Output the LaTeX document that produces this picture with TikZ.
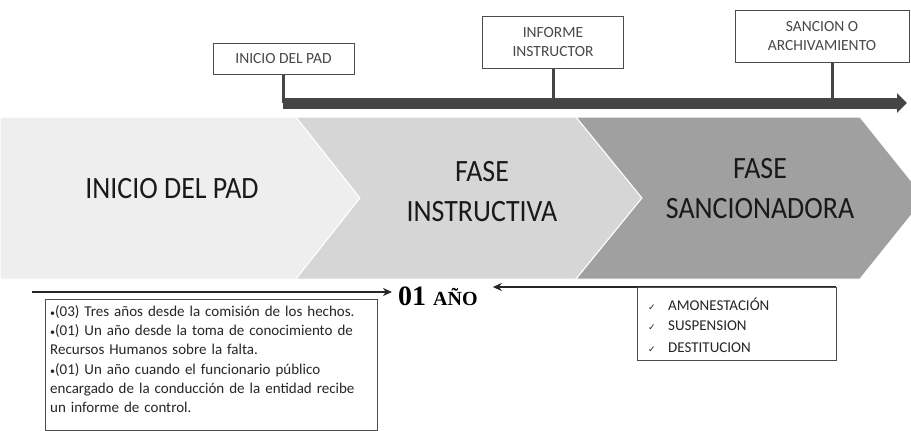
\documentclass[tikz,border=0pt]{standalone}
\usepackage{fontspec}
\setmainfont{Carlito}
\newfontfamily\chevfont[FakeStretch=0.9]{Carlito}
\newfontfamily\yearfont{Liberation Serif}
\newfontfamily\symfont{DejaVu Sans}
\usetikzlibrary{arrows.meta}
\definecolor{chevA}{HTML}{EEEEEE}
\definecolor{chevB}{HTML}{D6D6D6}
\definecolor{chevC}{HTML}{A0A0A0}
\definecolor{barcol}{HTML}{454545}
\definecolor{boxtext}{HTML}{484848}
\definecolor{bodytext}{HTML}{262626}
\newcommand{\smallbul}{{\fontsize{10}{10}\selectfont •}}
\begin{document}
\begin{tikzpicture}[x=1pt,y=-1pt,
  chev/.style={draw=white,line width=1pt},
  topbox/.style={draw=black!70,line width=1pt,fill=white,inner sep=0pt,align=center,
    text=boxtext,font=\fontsize{15.5}{19}\selectfont},
  stem/.style={draw=barcol,line width=3pt},
  bigbar/.style={draw=barcol,line width=11pt,-{Triangle[length=10pt,width=19pt]}},
  chevtext/.style={font=\chevfont\fontsize{31}{40}\selectfont,align=center,text=black!90},
  thinarrow/.style={draw=black!85,line width=1.8pt,-{Stealth[length=9pt,width=8pt]}},
  infobox/.style={draw=black!70,line width=1pt,inner sep=0pt},
  listtext/.style={anchor=west,inner sep=0pt,text=bodytext,font=\fontsize{15}{18}\selectfont}]
\useasboundingbox (0,0) rectangle (911,431);
\fill[white] (0,0) rectangle (911,431);

% chevrons
\begin{scope}
\clip (0,0) rectangle (911,431);
\fill[chevA,chev] (0,117) -- (296,117) -- (360,198) -- (296,279) -- (0,279) -- cycle;
\fill[chevB,chev] (296,117) -- (576,117) -- (642,198) -- (576,279) -- (296,279) -- (360,198) -- cycle;
\fill[chevC,chev] (576,117) -- (860,117) -- (925,198) -- (860,279) -- (576,279) -- (642,198) -- cycle;
\end{scope}
\node[chevtext] (c1) at (172,189) {INICIO DEL PAD};
\node[chevtext] (c2) at (482,192) {FASE\\INSTRUCTIVA};
\node[chevtext] (c3) at (760,189) {FASE\\SANCIONADORA};

% top timeline
\coordinate (barL) at (283,103);
\coordinate (barR) at (907,103);
\coordinate (s3) at (832,62);
\node[topbox,minimum width=141pt,minimum height=31pt] (b1) at (283.5,59) {INICIO DEL PAD};
\node[topbox,minimum width=141pt,minimum height=52pt] (b2) at (553,42) {INFORME\\INSTRUCTOR};
\node[topbox,minimum width=174pt,minimum height=52pt] (b3) at (822,36) {SANCION O\\ARCHIVAMIENTO};
\draw[stem] (b1.south) -- (b1.south |- barL);
\draw[stem] (b2.south) -- (b2.south |- barL);
\draw[stem] (s3) -- (s3 |- barL);
\draw[bigbar] (barL) -- (barR);

% one year
\node[anchor=west,inner sep=0pt] (year) at (398,296)
  {\yearfont\bfseries\fontsize{28}{28}\selectfont 01 \fontsize{20}{20}\selectfont AÑO};
\coordinate (la) at (32,292);
\coordinate (ra) at (836,287);
\draw[thinarrow] (la) -- ([xshift=-6pt]la -| year.west);
\draw[thinarrow] (ra) -- ([xshift=15pt]ra -| year.east);

% left info box
\node[infobox,minimum width=332pt,minimum height=131pt] (lb) at (211,364.5) {};
\node[anchor=north west,inner sep=0pt,text width=320pt,text=bodytext,
  font=\fontsize{15}{19.3}\selectfont] (lt) at (50,305)
 {\smallbul(03) Tres años desde la comisión de los hechos.\\
  \makebox[\linewidth][s]{\smallbul(01) Un año desde la toma de conocimiento de}\\
  Recursos Humanos sobre la falta.\\
  \makebox[\linewidth][s]{\smallbul(01) Un año cuando el funcionario público}\\
  \makebox[\linewidth][s]{encargado de la conducción de la entidad recibe}\\
  un informe de control.};

% right info box
\node[infobox,minimum width=199pt,minimum height=73pt] (rb) at (736.5,323.5) {};
\node[listtext] (r1) at (648,304) {\makebox[20pt][l]{\symfont\fontsize{9}{9}\selectfont ✓}AMONESTACIÓN};
\node[listtext] (r2) at (648,326) {\makebox[20pt][l]{\symfont\fontsize{9}{9}\selectfont ✓}SUSPENSION};
\node[listtext] (r3) at (648,348) {\makebox[20pt][l]{\symfont\fontsize{9}{9}\selectfont ✓}DESTITUCION};
\end{tikzpicture}
\end{document}
